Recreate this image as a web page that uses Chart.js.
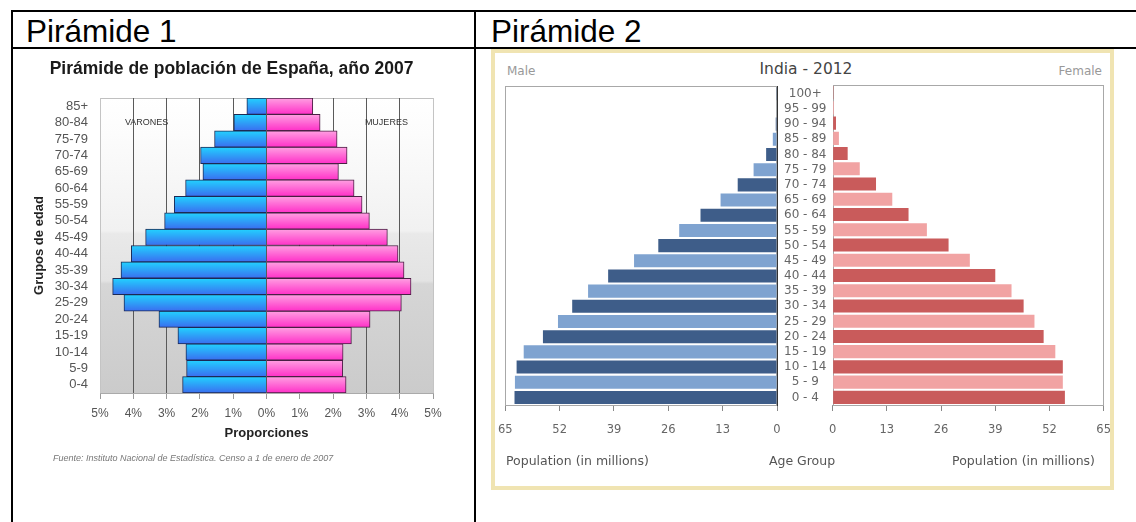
<!DOCTYPE html>
<html lang="es">
<head>
<meta charset="utf-8">
<title>Pirámides de población</title>
<script src="https://cdn.jsdelivr.net/npm/chart.js@4.4.1/dist/chart.umd.min.js"></script>
<style>
  html, body { margin: 0; padding: 0; background: #fff; }
  body { width: 1136px; height: 522px; position: relative; overflow: hidden; font-family: "Liberation Sans", Arial, sans-serif; }
  .line { position: absolute; background: #000; }
  .head { position: absolute; top: 16px; font-size: 31.5px; line-height: 31.5px; color: #000; }
  canvas { position: absolute; }
  .frame { position: absolute; left: 491px; top: 49px; width: 623px; height: 441px; box-sizing: border-box; border: 4px solid #f0e4b2; }
  .t { position: absolute; font-family: "DejaVu Sans", sans-serif; white-space: nowrap; }
</style>
</head>
<body>
<div class="line" style="left:11px;top:10px;width:1125px;height:2px"></div>
<div class="line" style="left:11px;top:47px;width:1125px;height:2px"></div>
<div class="line" style="left:11px;top:10px;width:2px;height:512px"></div>
<div class="line" style="left:474px;top:10px;width:2px;height:512px"></div>
<div class="head" style="left:26px">Pirámide 1</div>
<div class="head" style="left:491px">Pirámide 2</div>

<canvas id="es" width="450" height="440" style="left:20px;top:52px"></canvas>
<div style="position:absolute;left:53px;top:454px;font-size:9px;line-height:9px;font-style:italic;color:#777;white-space:nowrap">Fuente: Instituto Nacional de Estadística. Censo a 1 de enero de 2007</div>

<div class="frame"></div>
<div class="t" style="left:507px;top:65px;font-size:12px;line-height:12px;color:#999">Male</div>
<div class="t" style="left:806px;top:62px;font-size:15.5px;line-height:15.5px;color:#444;transform:translateX(-50%)">India - 2012</div>
<div class="t" style="right:34px;top:65px;font-size:12px;line-height:12px;color:#999">Female</div>
<canvas id="male" width="347" height="373" style="left:486px;top:72px"></canvas>
<canvas id="female" width="306" height="370" style="left:817px;top:75px"></canvas>
<div class="t" style="left:506px;top:455px;font-size:12.5px;line-height:12.5px;color:#555">Population (in millions)</div>
<div class="t" style="left:802px;top:455px;font-size:12.5px;line-height:12.5px;color:#555;transform:translateX(-50%)">Age Group</div>
<div class="t" style="right:41px;top:455px;font-size:12.5px;line-height:12.5px;color:#555">Population (in millions)</div>

<script>
// España 2007, % de la población total
const gruposEdad = ['0-4', '5-9', '10-14', '15-19', '20-24', '25-29', '30-34', '35-39', '40-44',
  '45-49', '50-54', '55-59', '60-64', '65-69', '70-74', '75-79', '80-84', '85+'];
const varones = [2.52, 2.40, 2.42, 2.66, 3.23, 4.28, 4.62, 4.37, 4.06, 3.63, 3.06, 2.77, 2.43, 1.91, 1.98, 1.56, 0.98, 0.59];
const mujeres = [2.39, 2.29, 2.30, 2.55, 3.11, 4.05, 4.34, 4.13, 3.95, 3.63, 3.09, 2.87, 2.63, 2.16, 2.42, 2.12, 1.61, 1.39];

// India 2012, millions
const ageGroups = ['0 - 4', '5 - 9', '10 - 14', '15 - 19', '20 - 24', '25 - 29', '30 - 34', '35 - 39',
  '40 - 44', '45 - 49', '50 - 54', '55 - 59', '60 - 64', '65 - 69', '70 - 74', '75 - 79', '80 - 84',
  '85 - 89', '90 - 94', '95 - 99', '100+'];
const male = [62.8, 62.7, 62.3, 60.6, 56.0, 52.4, 49.0, 45.2, 40.4, 34.2, 28.4, 23.4, 18.3, 13.5, 9.4, 5.6, 2.6, 1.0, 0.3, 0.1, 0.05];
const female = [55.7, 55.2, 55.2, 53.4, 50.6, 48.4, 45.8, 42.9, 39.0, 32.9, 27.8, 22.6, 18.2, 14.3, 10.4, 6.5, 3.6, 1.5, 0.8, 0.3, 0.2];

const ARIAL = '"Liberation Sans", Arial, sans-serif';
const DEJAVU = '"DejaVu Sans", sans-serif';

// vertical gradient repeated on every row of the spanish chart
function rowFill(top, bottom) {
  return function (context) {
    const chart = context.chart;
    const area = chart.chartArea;
    if (!area) return bottom;
    const rowH = (area.bottom - area.top) / gruposEdad.length;
    const off = document.createElement('canvas');
    off.width = 4;
    off.height = 100;
    const oc = off.getContext('2d');
    const g = oc.createLinearGradient(0, 0, 0, 100);
    g.addColorStop(0, top);
    g.addColorStop(1, bottom);
    oc.fillStyle = g;
    oc.fillRect(0, 0, 4, 100);
    const pat = chart.ctx.createPattern(off, 'repeat');
    pat.setTransform(new DOMMatrix().translate(0, area.top).scale(1, rowH / 100));
    return pat;
  };
}

const esBackground = {
  id: 'esBackground',
  beforeDraw(chart) {
    const { ctx, chartArea: a } = chart;
    const g = ctx.createLinearGradient(0, a.top, 0, a.bottom);
    g.addColorStop(0, '#ffffff');
    g.addColorStop(0.12, '#fcfcfc');
    g.addColorStop(0.45, '#f1f1f1');
    g.addColorStop(0.46, '#e9e9e9');
    g.addColorStop(0.62, '#e3e3e3');
    g.addColorStop(0.63, '#d6d6d6');
    g.addColorStop(1, '#cbcbcb');
    ctx.save();
    ctx.fillStyle = g;
    ctx.fillRect(a.left, a.top, a.right - a.left, a.bottom - a.top);
    ctx.strokeStyle = '#c0c0c0';
    ctx.lineWidth = 1;
    ctx.beginPath();
    ctx.moveTo(a.left, Math.round(a.top) + 0.5);
    ctx.lineTo(a.right, Math.round(a.top) + 0.5);
    ctx.stroke();
    ctx.restore();
  },
  afterDraw(chart) {
    const { ctx, scales } = chart;
    const y = scales.y.getPixelForValue(gruposEdad.indexOf('80-84'));
    ctx.save();
    ctx.font = '9px ' + ARIAL;
    ctx.fillStyle = '#333';
    ctx.textAlign = 'center';
    ctx.textBaseline = 'middle';
    ctx.fillText('VARONES', scales.x.getPixelForValue(-3.6), y);
    ctx.fillText('MUJERES', scales.x.getPixelForValue(3.6), y);
    ctx.restore();
  }
};

new Chart(document.getElementById('es'), {
  type: 'bar',
  data: {
    labels: gruposEdad,
    datasets: [
      {
        label: 'Varones',
        data: varones.map(v => -v),
        backgroundColor: rowFill('#22d2ff', '#3a6ef0'),
        borderColor: '#1c2a55',
        borderWidth: 1
      },
      {
        label: 'Mujeres',
        data: mujeres,
        backgroundColor: rowFill('#ffa0e2', '#ff30c8'),
        borderColor: '#4a1f44',
        borderWidth: 1
      }
    ]
  },
  options: {
    indexAxis: 'y',
    responsive: false,
    animation: false,
    datasets: { bar: { barPercentage: 1, categoryPercentage: 1 } },
    layout: { padding: { left: 10, right: 37, top: 0, bottom: 49 } },
    plugins: {
      legend: { display: false },
      tooltip: { enabled: false },
      title: {
        display: true,
        text: 'Pirámide de población de España, año 2007',
        color: '#1a1a1a',
        font: { family: ARIAL, size: 17.5, weight: 'bold' },
        padding: { top: 7, bottom: 18 }
      }
    },
    scales: {
      x: {
        stacked: true,
        min: -5,
        max: 5,
        ticks: {
          stepSize: 1,
          callback: v => Math.abs(v) + '%',
          color: '#555',
          font: { family: ARIAL, size: 12 },
          padding: 7
        },
        grid: {
          color: c => (c.tick && Math.abs(c.tick.value) === 5) ? '#c4c4c4' : '#5a5a5a',
          tickColor: '#999',
          tickLength: 6
        },
        border: { color: '#aaa' },
        title: {
          display: true,
          text: 'Proporciones',
          color: '#222',
          font: { family: ARIAL, size: 13, weight: 'bold' },
          padding: { top: 2, bottom: 2 }
        },
        afterFit: s => { s.height = 50; }
      },
      y: {
        stacked: true,
        reverse: true,
        ticks: { color: '#555', font: { family: ARIAL, size: 13 }, padding: 12, autoSkip: false },
        grid: { display: false, drawTicks: false },
        border: { display: false },
        title: {
          display: true,
          text: 'Grupos de edad',
          color: '#222',
          font: { family: ARIAL, size: 13, weight: 'bold' },
          padding: { top: 2, bottom: 2 }
        },
        afterFit: s => { s.width = 70; }
      }
    }
  },
  plugins: [esBackground]
});

// gray box round the india plot areas
const plotBox = {
  id: 'plotBox',
  beforeDatasetsDraw(chart) {
    const { ctx, chartArea: a } = chart;
    ctx.save();
    ctx.strokeStyle = '#a8a8a8';
    ctx.lineWidth = 1;
    ctx.strokeRect(Math.round(a.left) + 0.5, Math.round(a.top) + 0.5,
      Math.round(a.right - a.left) - 1, Math.round(a.bottom - a.top));
    ctx.restore();
  }
};

function indiaChart(id, values, dark, light, isMale) {
  return new Chart(document.getElementById(id), {
    type: 'bar',
    data: {
      labels: ageGroups,
      datasets: [{
        data: values,
        backgroundColor: c => (c.dataIndex % 2 === 0 ? dark : light),
        barPercentage: 0.86,
        categoryPercentage: 1
      }]
    },
    options: {
      indexAxis: 'y',
      responsive: false,
      animation: false,
      layout: { padding: isMale ? { left: 0, right: 0, top: 0, bottom: 0 } : { left: 0, right: 0, top: 10, bottom: 0 } },
      plugins: { legend: { display: false }, tooltip: { enabled: false } },
      scales: {
        x: {
          reverse: isMale,
          min: 0,
          max: 65,
          ticks: { stepSize: 13, color: '#666', font: { family: DEJAVU, size: 11.5 }, padding: 12 },
          grid: { drawOnChartArea: false, tickLength: 6, tickColor: '#888' },
          border: { color: '#999' },
          afterFit: s => { s.height = 40; }
        },
        y: {
          display: isMale,
          position: 'right',
          reverse: true,
          ticks: { crossAlign: 'center', padding: 7, color: '#666', font: { family: DEJAVU, size: 12 }, autoSkip: false },
          grid: { display: false, drawTicks: false },
          border: { color: '#333' },
          afterFit: s => { if (isMale) s.width = 56; }
        }
      }
    },
    plugins: [plotBox]
  });
}

indiaChart('male', male, '#3e5d89', '#7fa3d0', true);
indiaChart('female', female, '#c95b5b', '#f1a3a3', false);
</script>
</body>
</html>
